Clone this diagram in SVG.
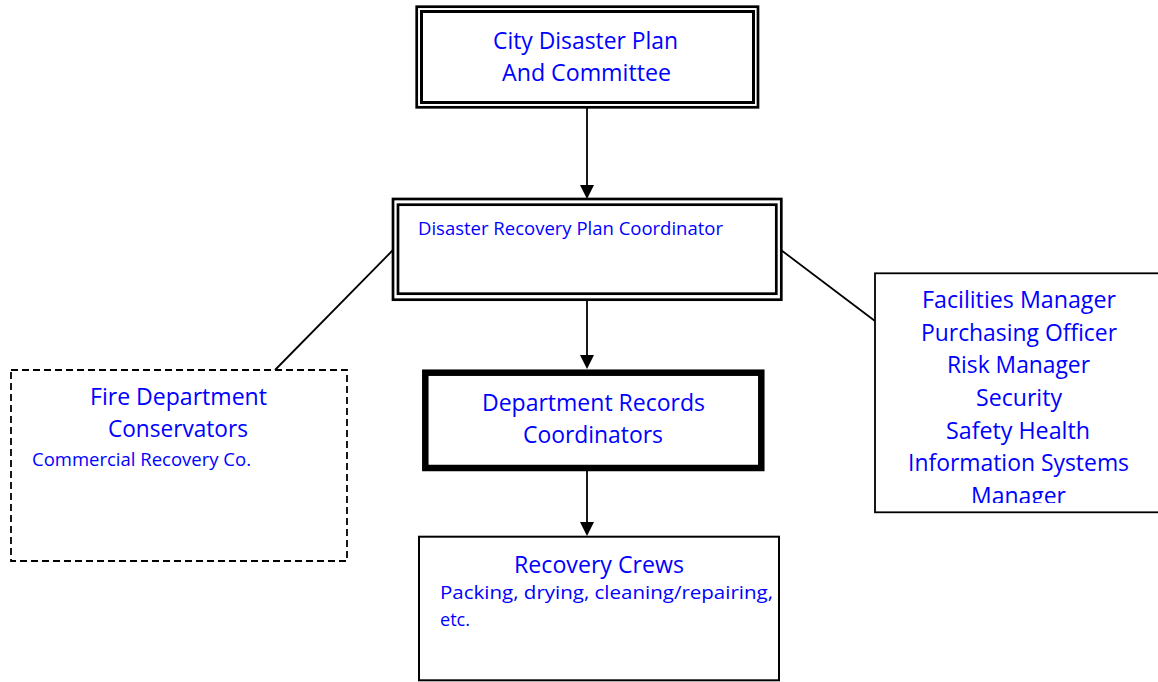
<svg xmlns="http://www.w3.org/2000/svg" width="1158" height="682" viewBox="0 0 1158 682">
<style>
.t{font-family:"Open Sans","Noto Sans","Liberation Sans",sans-serif;fill:#0000FF}
.L{font-size:23px}
.S{font-size:18.5px}
.box{fill:#fff;stroke:#000}
.con{stroke:#000;stroke-width:1.8;fill:none}
.head{fill:#000}
</style>
<defs>
<clipPath id="clipMgr"><rect x="870" y="270" width="300" height="233"/></clipPath>
</defs>
<rect width="1158" height="682" fill="#fff"/>

<g id="connectors">
<line class="con" x1="587" y1="108" x2="587" y2="186"/>
<path class="head" d="M580,185 L594,185 L587,199 Z"/>
<line class="con" x1="587" y1="300" x2="587" y2="356"/>
<path class="head" d="M580,355 L594,355 L587,369 Z"/>
<line class="con" x1="587" y1="471" x2="587" y2="523"/>
<path class="head" d="M580,522 L594,522 L587,536 Z"/>
<line class="con" x1="393" y1="250" x2="275" y2="370"/>
<line class="con" x1="781" y1="250" x2="875" y2="321"/>
</g>

<g id="city-plan">
<rect class="box" x="416.7" y="6.7" width="341.3" height="100.6" stroke-width="2.7"/>
<rect class="box" x="421.5" y="11.5" width="332" height="91" stroke-width="3"/>
<text class="t L" x="493" y="49" textLength="185" lengthAdjust="spacingAndGlyphs">City Disaster Plan</text>
<text class="t L" x="502" y="81" textLength="169" lengthAdjust="spacingAndGlyphs">And Committee</text>
</g>

<g id="drp-coordinator">
<rect class="box" x="393" y="199" width="388.3" height="100.7" stroke-width="2.7"/>
<rect class="box" x="398" y="204.7" width="378.3" height="89" stroke-width="2.7"/>
<text class="t S" x="418" y="235" textLength="305" lengthAdjust="spacingAndGlyphs">Disaster Recovery Plan Coordinator</text>
</g>

<g id="fire-dept">
<rect x="11" y="370" width="336" height="191" fill="#fff" stroke="#000" stroke-width="1.8" stroke-dasharray="7,4"/>
<text class="t L" x="90" y="405" textLength="177" lengthAdjust="spacingAndGlyphs">Fire Department</text>
<text class="t L" x="108" y="437" textLength="140" lengthAdjust="spacingAndGlyphs">Conservators</text>
<text class="t S" x="32" y="466" textLength="219" lengthAdjust="spacingAndGlyphs">Commercial Recovery Co.</text>
</g>

<g id="facilities">
<rect class="box" x="875" y="273.3" width="300" height="239" stroke-width="1.8"/>
<text class="t L" x="922" y="308" textLength="194" lengthAdjust="spacingAndGlyphs">Facilities Manager</text>
<text class="t L" x="921" y="341" textLength="196" lengthAdjust="spacingAndGlyphs">Purchasing Officer</text>
<text class="t L" x="947" y="373" textLength="143" lengthAdjust="spacingAndGlyphs">Risk Manager</text>
<text class="t L" x="976" y="406" textLength="86" lengthAdjust="spacingAndGlyphs">Security</text>
<text class="t L" x="946" y="439" textLength="144" lengthAdjust="spacingAndGlyphs">Safety Health</text>
<text class="t L" x="908" y="471" textLength="221" lengthAdjust="spacingAndGlyphs">Information Systems</text>
<text class="t L" x="971" y="504" textLength="95" lengthAdjust="spacingAndGlyphs" clip-path="url(#clipMgr)">Manager</text>
</g>

<g id="dept-records">
<rect class="box" x="425.3" y="372.7" width="336" height="95.3" stroke-width="6.5"/>
<text class="t L" x="482" y="411" textLength="223" lengthAdjust="spacingAndGlyphs">Department Records</text>
<text class="t L" x="523" y="443" textLength="140" lengthAdjust="spacingAndGlyphs">Coordinators</text>
</g>

<g id="recovery-crews">
<rect class="box" x="419" y="536.7" width="360" height="143.6" stroke-width="2"/>
<text class="t L" x="514" y="573" textLength="170" lengthAdjust="spacingAndGlyphs">Recovery Crews</text>
<text class="t S" x="440" y="599" textLength="333" lengthAdjust="spacingAndGlyphs">Packing, drying, cleaning/repairing,</text>
<text class="t S" x="440" y="626" textLength="30" lengthAdjust="spacingAndGlyphs">etc.</text>
</g>
</svg>
